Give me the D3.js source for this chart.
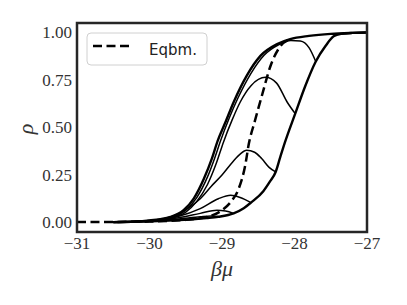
<!DOCTYPE html>
<html><head><meta charset="utf-8">
<script src="https://cdn.jsdelivr.net/npm/d3@7"></script>
<style>
text.ser{font-family:"Liberation Serif" !important;font-size:17px !important}
text.ser.lab{font-size:22px !important;font-style:italic !important}
text.san{font-family:"DejaVu Sans" !important;font-size:15px !important}
</style>
</head><body style="margin:0">
<svg id="c" width="407" height="305" style="background:#fff"></svg>
<script>
const xTicks = [-31, -30, -29, -28, -27];
const yTicks = [0, 0.25, 0.5, 0.75, 1.0];
const legendLabel = "Eqbm.";

// boundary curves (thick)
const leftBranch = [[-30.5,0.002],[-30.2,0.005],[-30.0,0.011],[-29.85,0.018],[-29.71,0.03],[-29.53,0.065],[-29.39,0.126],[-29.25,0.23],[-29.14,0.336],[-29.06,0.43],[-28.95,0.53],[-28.84,0.633],[-28.66,0.772],[-28.47,0.877],[-28.24,0.939],[-28.06,0.965],[-27.8,0.982],[-27.5,0.993],[-27.2,0.998],[-27.0,1.0]];
const rightBranch = [[-30.5,0.001],[-30.0,0.006],[-29.67,0.011],[-29.21,0.023],[-29.05,0.03],[-28.84,0.048],[-28.7,0.075],[-28.6,0.105],[-28.43,0.165],[-28.34,0.215],[-28.26,0.266],[-28.2,0.34],[-28.13,0.424],[-27.99,0.573],[-27.85,0.72],[-27.71,0.845],[-27.57,0.93],[-27.46,0.98],[-27.35,0.993],[-27.2,0.998],[-27.0,1.0]];
// scanning curves (thin)
const scanA = [[-30.5,0.002],[-30.0,0.011],[-29.7,0.028],[-29.5,0.065],[-29.35,0.13],[-29.2,0.24],[-29.1,0.34],[-29.02,0.43],[-28.9,0.55],[-28.78,0.655],[-28.6,0.785],[-28.42,0.88],[-28.22,0.935],[-28.05,0.958],[-27.92,0.955],[-27.8,0.92],[-27.71,0.85]];
const scanB = [[-30.5,0.002],[-30.0,0.01],[-29.7,0.025],[-29.5,0.055],[-29.35,0.11],[-29.2,0.2],[-29.08,0.31],[-28.98,0.423],[-28.86,0.54],[-28.75,0.633],[-28.6,0.72],[-28.4,0.764],[-28.25,0.735],[-28.1,0.633],[-27.99,0.573]];
const scanC = [[-30.5,0.001],[-30.0,0.009],[-29.8,0.02],[-29.6,0.045],[-29.45,0.08],[-29.3,0.125],[-29.15,0.19],[-29.0,0.25],[-28.85,0.32],[-28.75,0.36],[-28.66,0.38],[-28.55,0.37],[-28.45,0.335],[-28.35,0.29],[-28.26,0.266]];
const scanD = [[-30.5,0.001],[-30.0,0.008],[-29.62,0.03],[-29.3,0.073],[-29.05,0.125],[-28.88,0.143],[-28.75,0.132],[-28.6,0.105]];
const scanE = [[-30.5,0.001],[-30.0,0.007],[-29.6,0.025],[-29.3,0.048],[-29.07,0.065],[-28.95,0.06],[-28.84,0.048]];
const scanF = [[-30.5,0.001],[-30.0,0.006],[-29.6,0.018],[-29.3,0.03],[-29.15,0.034],[-29.05,0.03]];
// equilibrium (dashed)
const eqbm = [[-31,0.002],[-30.5,0.003],[-30.0,0.005],[-29.5,0.014],[-29.2,0.03],[-29.0,0.065],[-28.88,0.108],[-28.77,0.178],[-28.68,0.30],[-28.63,0.414],[-28.55,0.53],[-28.45,0.667],[-28.33,0.825],[-28.19,0.93],[-28.08,0.962]];

const L = 77, R = 367, T = 23, B = 232;
const x = d3.scaleLinear().domain([-31, -27]).range([L, R]);
const y = d3.scaleLinear().domain([-0.05, 1.05]).range([B, T]);
const svg = d3.select("#c");
const line = d3.line().x(d => x(d[0])).y(d => y(d[1])).curve(d3.curveMonotoneX);

const g = svg.append("g");
const thin = [scanA, scanB, scanC, scanD, scanE, scanF];
thin.forEach(s => g.append("path").attr("d", line(s)).attr("fill","none").attr("stroke","#000").attr("stroke-width",1.5));
[leftBranch, rightBranch].forEach(s => g.append("path").attr("d", line(s)).attr("fill","none").attr("stroke","#000").attr("stroke-width",2.4));
g.append("path").attr("d", line(eqbm)).attr("fill","none").attr("stroke","#000").attr("stroke-width",2.5).attr("stroke-dasharray","9,4.5");

// frame
svg.append("rect").attr("x", L).attr("y", T).attr("width", R-L).attr("height", B-T)
  .attr("fill","none").attr("stroke","#262626").attr("stroke-width",2.5);

const fmtX = d => (d < 0 ? "\u2212" : "") + Math.abs(d);
svg.append("g").selectAll("text").data(xTicks).join("text").attr("class","ser")
  .attr("x", d => x(d)).attr("y", 249).attr("text-anchor","middle")
  .attr("font-family","Liberation Serif").attr("font-size",17).attr("fill","#333")
  .text(fmtX);
svg.append("g").selectAll("text").data(yTicks).join("text").attr("class","ser")
  .attr("x", 72).attr("y", d => y(d) + 5.5).attr("text-anchor","end")
  .attr("font-family","Liberation Serif").attr("font-size",17).attr("fill","#333")
  .text(d => d3.format(".2f")(d));

svg.append("text").attr("class","ser lab").attr("transform","translate(33,129) rotate(-90)").attr("text-anchor","middle")
  .attr("font-family","Liberation Serif").attr("font-style","italic").attr("font-size",22).attr("fill","#333").text("\u03c1");
svg.append("text").attr("class","ser lab").attr("x", 222).attr("y", 276).attr("text-anchor","middle")
  .attr("font-family","Liberation Serif").attr("font-style","italic").attr("font-size",22).attr("fill","#333").text("\u03b2\u03bc");

// legend
const lg = svg.append("g");
lg.append("rect").attr("x",87).attr("y",33).attr("width",120).attr("height",32).attr("rx",4)
  .attr("fill","#fff").attr("fill-opacity",0.8).attr("stroke","#d0d0d0").attr("stroke-width",1);
lg.append("line").attr("x1",93).attr("x2",133).attr("y1",46).attr("y2",46)
  .attr("stroke","#000").attr("stroke-width",2.5).attr("stroke-dasharray","9,4.5");
lg.append("text").attr("class","san").attr("x",149).attr("y",55).attr("font-family","DejaVu Sans").attr("font-size",15).attr("fill","#222").text(legendLabel);
</script>
</body></html>
